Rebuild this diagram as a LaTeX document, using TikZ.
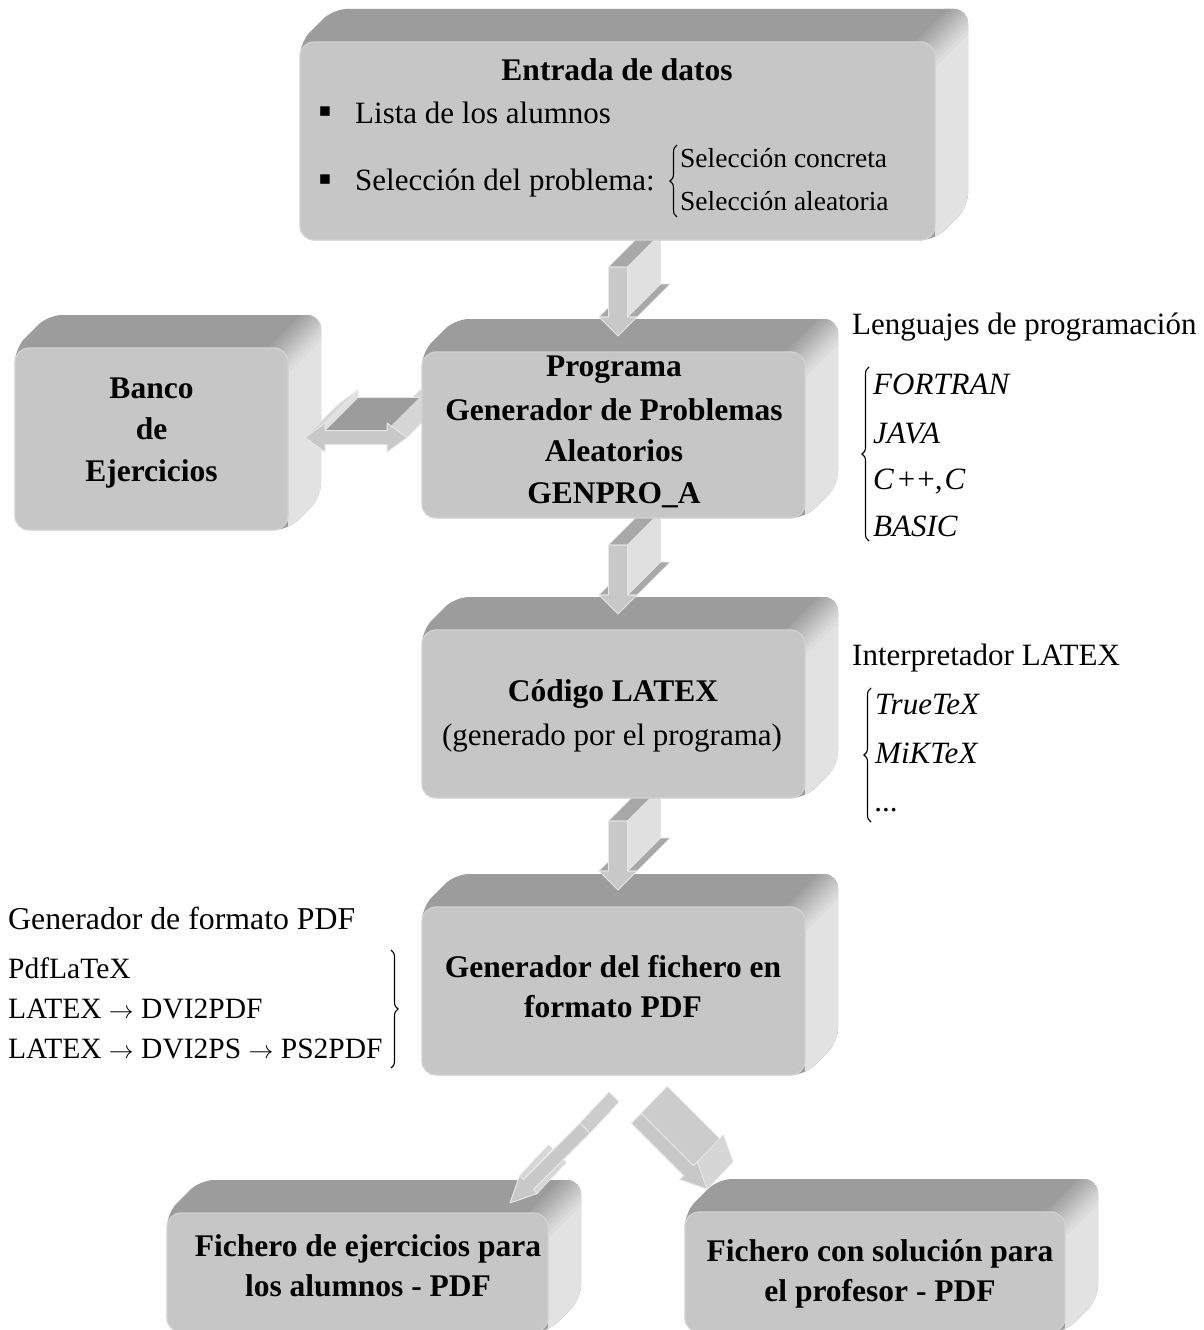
\documentclass[tikz,border=0pt]{standalone}
\usepackage{fontspec}
\setmainfont{Liberation Serif}
\newfontfamily\dejavu{DejaVu Sans}
\usetikzlibrary{calc,decorations.pathreplacing}
\definecolor{topc}{HTML}{9C9C9C}
\definecolor{sidec}{HTML}{E2E2E2}
\definecolor{frontc}{HTML}{C6C6C6}
\definecolor{rimc}{HTML}{D2D2D2}
\definecolor{arrfrontc}{HTML}{C8C8C8}
\definecolor{arrtopc}{HTML}{A8A8A8}
\definecolor{arrsidec}{HTML}{E0E0E0}
\definecolor{arrlightc}{HTML}{D6D6D6}
\definecolor{arrmidc}{HTML}{CCCCCC}
\definecolor{arredge}{HTML}{E6E6E6}

\tikzset{
 frontface/.style={rectangle, rounded corners=14pt, fill=frontc, draw=rimc, line width=1.2pt, inner sep=0pt, outer sep=0pt},
 btext/.style={font=\fontsize{31.5}{38}\selectfont\bfseries, inner sep=0pt, anchor=base},
 rtext/.style={font=\fontsize{31}{38}\selectfont, inner sep=0pt, anchor=base},
 ltext/.style={font=\fontsize{31}{38}\selectfont, inner sep=0pt, anchor=base west},
 htext/.style={font=\fontsize{31.8}{38}\selectfont, inner sep=0pt, anchor=base west},
 itext/.style={font=\fontsize{31}{38}\selectfont\itshape, inner sep=0pt, anchor=base west},
 stext/.style={font=\fontsize{27.5}{34}\selectfont, inner sep=0pt, anchor=base west},
 ptext/.style={font=\fontsize{29.5}{34}\selectfont, inner sep=0pt, anchor=base west},
 bullet/.style={font=\fontsize{19}{22}\selectfont\dejavu, inner sep=0pt, anchor=center},
 bracel/.style={decorate, decoration={brace, amplitude=7pt}, line width=1.1pt},
 arrfront/.style={fill=arrfrontc, draw=arredge, line width=1pt, line join=round},
}

% 3D box: name, x1, y1, x2, y2 (front face, screen px), depth 33
\newcommand\tdbox[5]{%
 \begin{scope}
  \clip[rounded corners=14pt] (#2,#5) -- (#2,#3) -- ({#2+33},{#3-33}) -- ({#4+33},{#3-33}) -- ({#4+33},{#5-33}) -- (#4,#5) -- cycle;
  \fill[topc] ({#2-5},{#5+5}) rectangle ({#4+40},{#3-40});
  \fill[sidec] (#4,#3) -- ({#4+40},{#3-40}) -- ({#4+40},{#5+5}) -- (#4,#5) -- cycle;
  \foreach \k in {-12,-10,...,10}{
    \pgfmathsetmacro\p{(\k+12)/24*100}
    \fill[sidec!\p!topc] ({#4+\k-15},{#3+\k+15}) -- ({#4+\k+45},{#3+\k-45}) -- ({#4+\k+47.5},{#3+\k-42.5}) -- ({#4+\k-12.5},{#3+\k+17.5}) -- cycle;
  }
 \end{scope}
 \node[frontface, minimum width={(#4-#2)*1pt}, minimum height={(#5-#3)*1pt}] (#1) at ({(#2+#4)/2},{(#3+#5)/2}) {};
}

% arrow outline points: prefix, tip, angle, L, sw, hw, hl
\newcommand\arrowpts[7]{%
 \begin{scope}[shift={(#2)}, rotate=#3]
  \coordinate (#1-1) at (0,0);
  \coordinate (#1-2) at (-#7,#6);
  \coordinate (#1-3) at (-#7,#5);
  \coordinate (#1-4) at (-#4,#5);
  \coordinate (#1-5) at (-#4,-#5);
  \coordinate (#1-6) at (-#7,-#5);
  \coordinate (#1-7) at (-#7,-#6);
 \end{scope}}
\newcommand\face[4]{\filldraw[fill=#4, draw=arredge, line width=0.6pt, line join=round] (#1) -- (#2) -- ($(#2)+#3$) -- ($(#1)+#3$) -- cycle;}
\newcommand\frontpoly[1]{\filldraw[arrfront] (#1-1) -- (#1-2) -- (#1-3) -- (#1-4) -- (#1-5) -- (#1-6) -- (#1-7) -- cycle;}
\newcommand\downarr[2]{%
 \arrowpts{#1}{#2}{-90}{69}{9.5}{19}{19}
 \face{#1-2}{#1-3}{(33,-33)}{arrtopc}
 \face{#1-6}{#1-7}{(33,-33)}{arrtopc}
 \face{#1-4}{#1-5}{(33,-33)}{arrtopc}
 \face{#1-5}{#1-6}{(33,-33)}{arrsidec}
 \frontpoly{#1}}

\begin{document}
\begin{tikzpicture}[x=1pt,y=-1pt]
\useasboundingbox (0,0) rectangle (1203,1330);
\fill[white] (0,0) rectangle (1203,1330);

% bottom boxes
\tdbox{fej}{167}{1213}{548}{1332}
\tdbox{fsol}{685}{1212}{1065}{1332}

% diagonal arrows
\coordinate (ltip) at ($(fej.north)+(152.5,-10)$);
\arrowpts{l}{ltip}{-135}{106}{7}{12.5}{26}
\face{l-2}{l-3}{(29,-31)}{arrlightc}
\face{l-6}{l-7}{(29,-31)}{arrlightc}
\face{l-4}{l-5}{(29,-31)}{arrmidc}
\frontpoly{l}
\coordinate (rtip) at ($(fsol.north)+(-168,-23)$);
\arrowpts{r}{rtip}{-45}{100}{7}{12.5}{26}
\face{r-5}{r-6}{(26,-27)}{arrmidc}
\face{r-7}{r-1}{(26,-27)}{arrlightc}
\frontpoly{r}

% PDF generator
\tdbox{pdfgen}{422}{907}{805}{1075}
\coordinate (a3tip) at ($(pdfgen.north)+(4.5,-17)$);
\downarr{a3}{a3tip}

% LaTeX code
\tdbox{latex}{422}{630}{805}{798}
\coordinate (a2tip) at ($(latex.north)+(4.5,-16)$);
\downarr{a2}{a2tip}

% Banco
\tdbox{banco}{15}{348}{288}{530}
% double arrow
\coordinate (d-LT) at (305,437.5);
\coordinate (d-LHt) at (325,423);
\coordinate (d-LSt) at (325,430.5);
\coordinate (d-RSt) at (387,430.5);
\coordinate (d-RHt) at (387,423);
\coordinate (d-RT) at (407,437.5);
\coordinate (d-RHb) at (387,452);
\coordinate (d-RSb) at (387,444.5);
\coordinate (d-LSb) at (325,444.5);
\coordinate (d-LHb) at (325,452);
\face{d-RHt}{d-RT}{(33,-33)}{arrlightc}
\face{d-LT}{d-LHt}{(33,-33)}{arrlightc}
\face{d-LHt}{d-LSt}{(33,-33)}{arrsidec}
\face{d-LSt}{d-RSt}{(33,-33)}{topc}
\filldraw[arrfront] (d-LT) -- (d-LHt) -- (d-LSt) -- (d-RSt) -- (d-RHt) -- (d-RT) -- (d-RHb) -- (d-RSb) -- (d-LSb) -- (d-LHb) -- cycle;

% Programa
\tdbox{prog}{422}{352}{805}{518}
\coordinate (a1tip) at ($(prog.north)+(4.5,-16)$);
\downarr{a1}{a1tip}

% Entrada
\tdbox{entrada}{300}{42}{935}{240}

% ---- texts ----
\node[btext] (t-entrada) at (617,81) {Entrada de datos};
\node[bullet] (b1) at (325,112) {▪};
\node[bullet] (b2) at (325,180) {▪};
\node[ltext] (t-lista) at (355,123) {Lista de los alumnos};
\node[ltext] (t-sel) at (355,190) {Selección del problema:};
\draw[bracel] (677,217) -- (677,145);
\node[stext] (t-conc) at (680,167) {Selección concreta};
\node[stext] (t-alea) at (680,210) {Selección aleatoria};

\node[btext] (t-banco1) at (151.5,398) {Banco};
\node[btext] (t-banco2) at (151.5,439) {de};
\node[btext] (t-banco3) at (151.5,481) {Ejercicios};

\node[btext] (t-prog1) at (614,376) {Programa};
\node[btext] (t-prog2) at (614,420) {Generador de Problemas};
\node[btext] (t-prog3) at (614,461) {Aleatorios};
\node[btext] (t-prog4) at (614,503) {GENPRO\_A};

\node[btext] (t-latex1) at (613,701) {Código LATEX};
\node[rtext] (t-latex2) at (612,745) {(generado por el programa)};

\node[btext] (t-pdf1) at (613,977) {Generador del fichero en};
\node[btext] (t-pdf2) at (613,1017) {formato PDF};

\node[btext] (t-fej1) at (368,1256) {Fichero de ejercicios para};
\node[btext] (t-fej2) at (368,1296) {los alumnos - PDF};
\node[btext] (t-fsol1) at (880,1261) {Fichero con solución para};
\node[btext] (t-fsol2) at (880,1301) {el profesor - PDF};

% right annotations
\node[ltext] (t-leng) at (852,334) {Lenguajes de programación};
\draw[bracel] (869,541) -- (869,367);
\node[itext] (t-fortran) at (873,394) {FORTRAN};
\node[itext] (t-java) at (873,443) {JAVA};
\node[itext] (t-cpp) at (873,489) {C\hspace{4pt}{\upshape +}\hspace{2pt}{\upshape +},\hspace{2pt}C};
\node[itext] (t-basic) at (873,536) {BASIC};

\node[ltext] (t-interp) at (852,665) {Interpretador LATEX};
\draw[bracel] (871,822) -- (871,688);
\node[itext] (t-true) at (875,714) {TrueTeX};
\node[itext] (t-mik) at (875,763) {MiKTeX};
\node[itext] (t-dots) at (875,811) {...};

% left annotation
\node[htext] (t-genpdf) at (8,929) {Generador de formato PDF};
\node[ptext] (t-p1) at (8,978) {PdfLaTeX};
\node[ptext] (t-p2) at (8,1018) {LATEX $\rightarrow$ DVI2PDF};
\node[ptext] (t-p3) at (8,1058) {LATEX $\rightarrow$ DVI2PS $\rightarrow$ PS2PDF};
\draw[bracel] (391,950) -- (391,1068);
\end{tikzpicture}
\end{document}
